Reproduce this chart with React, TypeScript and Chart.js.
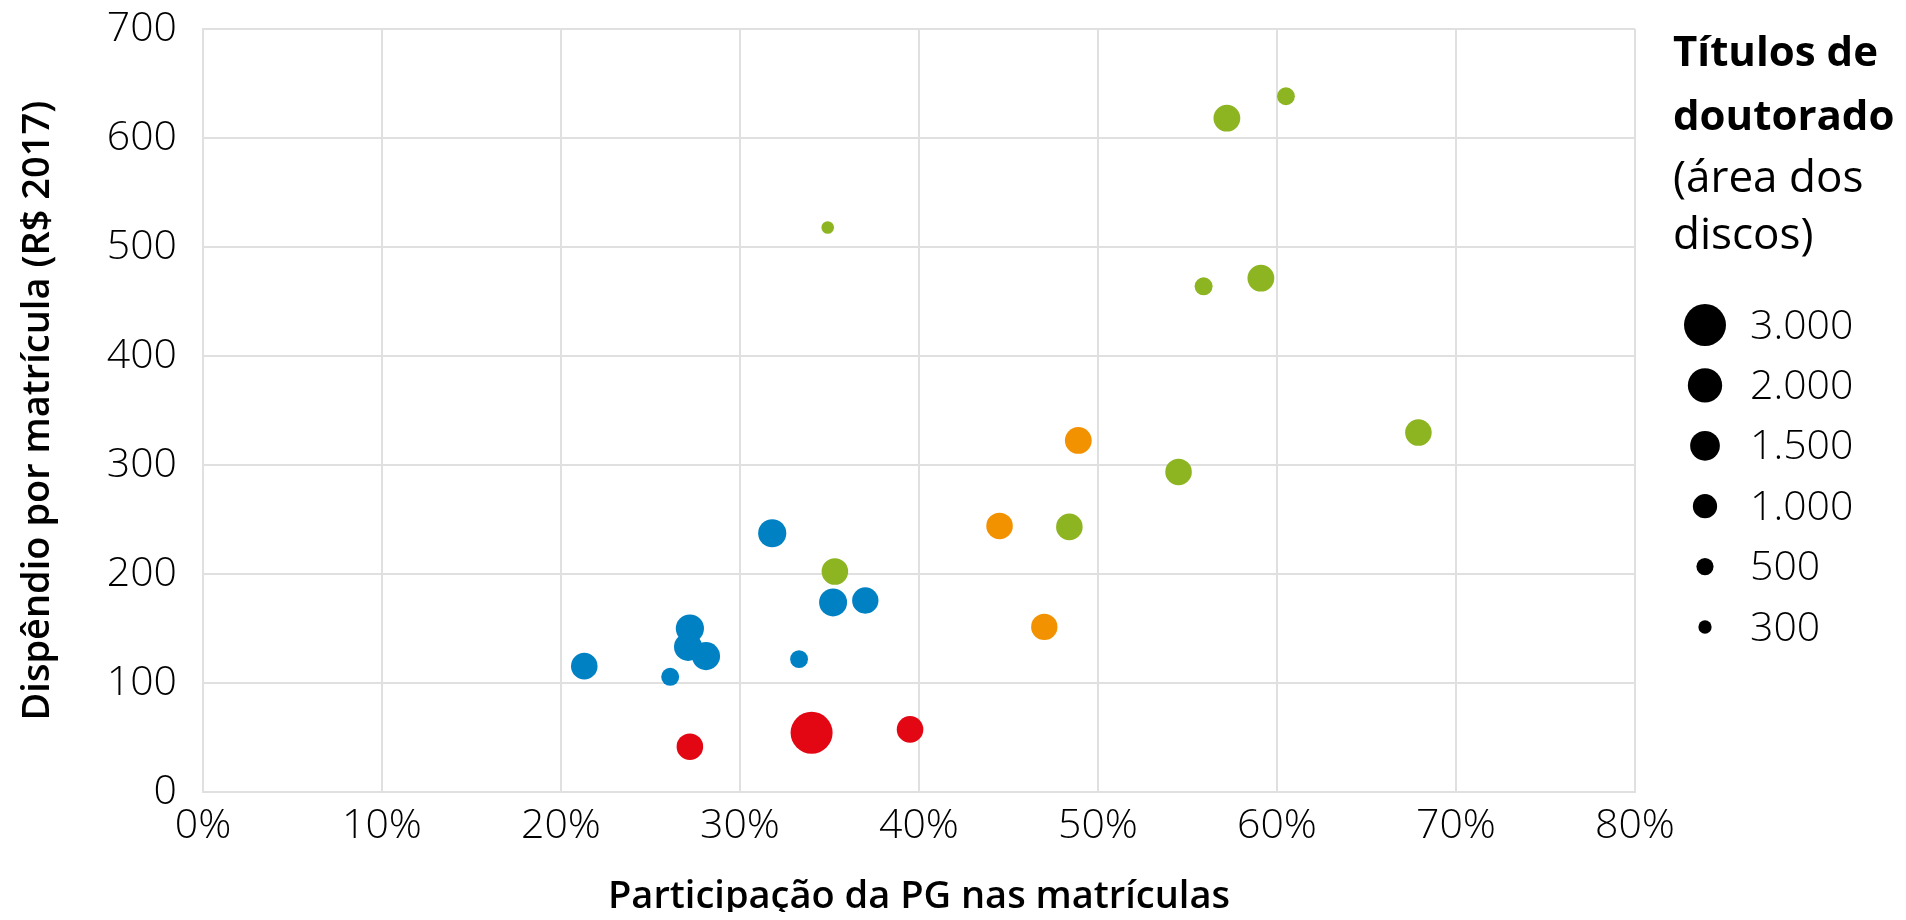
import React, { useEffect, useRef } from "react";
import { Chart, registerables } from "chart.js";

Chart.register(...registerables);

const FONT = "'Open Sans', 'Noto Sans', sans-serif";

// Series (x: participação da PG em %, y: dispêndio por matrícula em R$, t: títulos de doutorado)
const groupColors = ["#0081c4", "#e30613", "#f39200", "#8cb521"];
const groupNames = ["Grupo azul", "Grupo vermelho", "Grupo laranja", "Grupo verde"];

const blueX = [21.3, 26.1, 27.1, 27.2, 28.1, 31.8, 33.3, 35.2, 37.0];
const blueY = [115.7, 105.9, 133.4, 150.2, 124.9, 237.6, 122.1, 174.1, 175.9];
const blueT = [1200, 550, 1350, 1350, 1350, 1350, 540, 1330, 1180];

const redX = [27.2, 34.0, 39.5];
const redY = [41.8, 54.6, 57.7];
const redT = [1200, 3000, 1200];

const orangeX = [44.5, 47.0, 48.9];
const orangeY = [244.3, 151.7, 322.7];
const orangeT = [1200, 1180, 1220];

const greenX = [34.9, 35.3, 48.4, 54.5, 55.9, 57.2, 59.1, 60.5, 67.9];
const greenY = [518.0, 202.5, 243.4, 293.8, 464.0, 618.2, 471.5, 638.3, 329.9];
const greenT = [270, 1200, 1200, 1200, 550, 1220, 1220, 540, 1200];

const xTickStep = 10;
const xMin = 0;
const xMax = 80;
const yTickStep = 100;
const yMin = 0;
const yMax = 700;

const xTitle = "Participação da PG nas matrículas";
const yTitle = "Dispêndio por matrícula (R$ 2017)";
const legendTitleLines = ["Títulos de", "doutorado", "(área dos", "discos)"];
const legendValues = [3000, 2000, 1500, 1000, 500, 300];
const legendLabels = ["3.000", "2.000", "1.500", "1.000", "500", "300"];

// disc area proportional to number of titles
const radiusFor = (t: number) => 0.3834 * Math.sqrt(t);

const build = (xs: number[], ys: number[], ts: number[]) =>
  xs.map((x, i) => ({ x, y: ys[i], r: radiusFor(ts[i]) }));

const seriesData = [
  build(blueX, blueY, blueT),
  build(redX, redY, redT),
  build(orangeX, orangeY, orangeT),
  build(greenX, greenY, greenT),
];

const sizeLegend = {
  id: "sizeLegend",
  afterDraw(chart: any) {
    const ctx = chart.ctx as CanvasRenderingContext2D;
    const a = chart.chartArea;
    ctx.save();
    ctx.fillStyle = "#000";
    ctx.textAlign = "left";
    ctx.textBaseline = "alphabetic";
    const tx = a.right + 38;
    const baselines = [58, 122, 184, 241];
    legendTitleLines.forEach((line, i) => {
      ctx.font = i < 2 ? `700 42px ${FONT}` : `400 44px ${FONT}`;
      ctx.fillText(line, tx, baselines[i]);
    });
    const cx = a.right + 70;
    legendValues.forEach((v, i) => {
      const cy = 317 + i * 60.4;
      ctx.beginPath();
      ctx.arc(cx, cy, radiusFor(v), 0, Math.PI * 2);
      ctx.fill();
      ctx.font = `300 41px ${FONT}`;
      ctx.textBaseline = "middle";
      ctx.fillText(legendLabels[i], a.right + 115, cy + 2);
    });
    ctx.restore();
  },
};

export default function App() {
  const ref = useRef<HTMLCanvasElement | null>(null);

  useEffect(() => {
    if (!ref.current) return;
    const gridColor = "#e0e0e0";
    const chart = new Chart(ref.current, {
      type: "bubble",
      data: {
        datasets: seriesData.map((d, i) => ({
          label: groupNames[i],
          data: d,
          backgroundColor: groupColors[i],
          borderWidth: 0,
          hoverBorderWidth: 0,
          hoverRadius: 0,
        })),
      },
      plugins: [sizeLegend],
      options: {
        responsive: true,
        maintainAspectRatio: false,
        animation: false,
        layout: { padding: { top: 20, right: 263, bottom: 0, left: 0 } },
        plugins: {
          legend: { display: false },
          tooltip: { enabled: false },
        },
        scales: {
          x: {
            type: "linear",
            min: xMin,
            max: xMax,
            ticks: {
              stepSize: xTickStep,
              padding: 14,
              color: "#000",
              font: { family: FONT, size: 41, weight: "300", lineHeight: 1 },
              callback: (v: any) => `${v}%`,
            },
            grid: { color: gridColor, lineWidth: 2, drawTicks: false },
            border: { color: gridColor, width: 2 },
            title: {
              display: true,
              text: xTitle,
              color: "#000",
              font: { family: FONT, size: 38, weight: "600", lineHeight: 0.6 },
              padding: { top: 0, bottom: 3 },
            },
            afterFit: (s: any) => {
              s.height = 119.7;
            },
          },
          y: {
            type: "linear",
            min: yMin,
            max: yMax,
            ticks: {
              stepSize: yTickStep,
              padding: 0,
              color: "#000",
              font: { family: FONT, size: 41, weight: "300", lineHeight: 1 },
            },
            grid: {
              color: gridColor,
              lineWidth: 2,
              drawTicks: true,
              tickLength: 26,
              tickColor: "rgba(0,0,0,0)",
            },
            border: { color: gridColor, width: 2 },
            title: {
              display: true,
              text: yTitle,
              color: "#000",
              font: { family: FONT, size: 38, weight: "600", lineHeight: 1 },
              padding: { top: 11, bottom: 0 },
            },
            afterFit: (s: any) => {
              s.width = 195;
            },
          },
        },
      },
    } as any);
    return () => chart.destroy();
  }, []);

  return (
    <div style={{ position: "relative", width: 1890, height: 904 }}>
      <canvas ref={ref} style={{ display: "block" }} />
    </div>
  );
}
